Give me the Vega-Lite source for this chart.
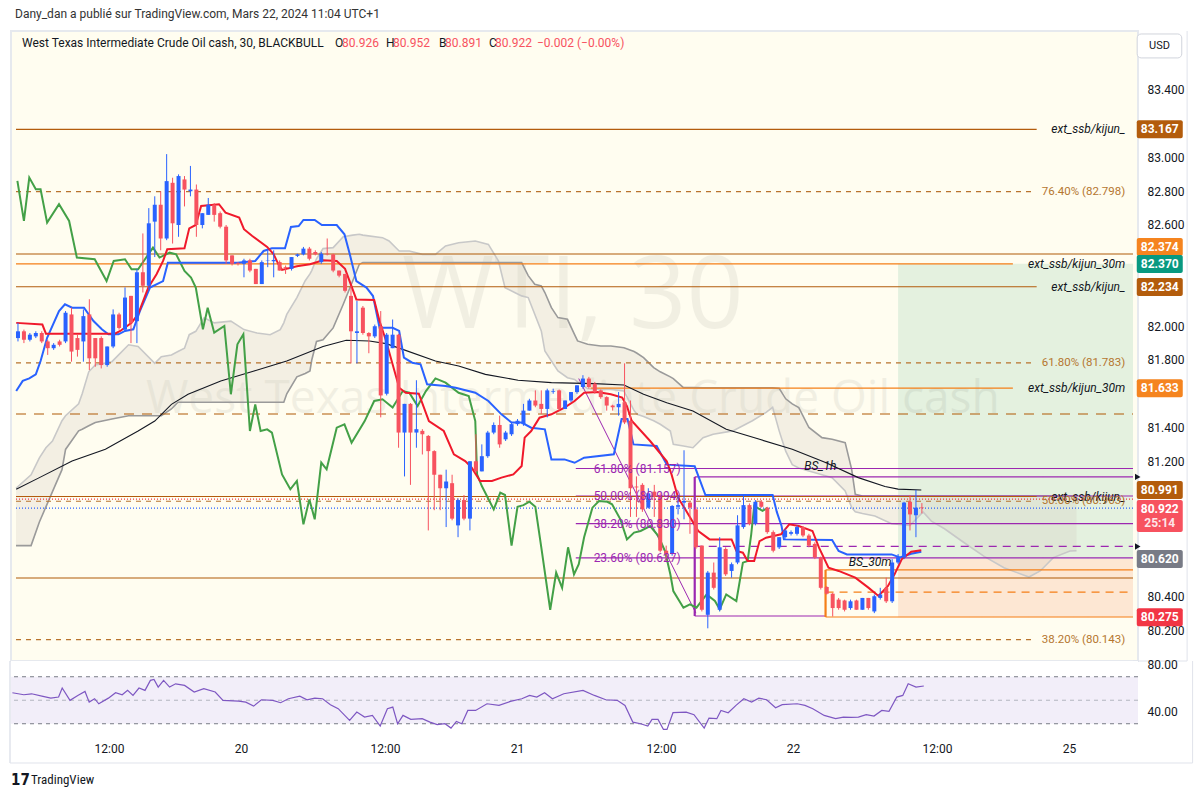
{
"$schema":"https://vega.github.io/schema/vega-lite/v6.json",
"background":"white",
"padding":{"left":9,"top":7,"right":0,"bottom":0},
"autosize":{"type":"pad"},
"config":{"view":{"stroke":"#e6e9ee","strokeWidth":2},"font":"Roboto","text":{"font":"Roboto"}},
"spacing":0,
"bounds":"flush",
"datasets":{
"zones":[{"k":"profit","a":156,"b":195.5,"lo":80.62,"hi":82.37},{"k":"loss","a":156,"b":195.5,"lo":80.275,"hi":80.62}],
"candles":[
{"i":8,"o":81.93,"h":82.02,"l":81.91,"c":81.97},{"i":9,"o":81.97,"h":81.98,"l":81.90,"c":81.92},{"i":10,"o":81.92,"h":81.96,"l":81.91,"c":81.95},{"i":11,"o":81.94,"h":81.97,"l":81.93,"c":81.96},{"i":12,"o":81.96,"h":81.97,"l":81.90,"c":81.91},{"i":13,"o":81.91,"h":81.92,"l":81.83,"c":81.87},{"i":14,"o":81.87,"h":81.90,"l":81.86,"c":81.89},{"i":15,"o":81.91,"h":81.92,"l":81.88,"c":81.89},{"i":16,"o":81.91,"h":82.09,"l":81.90,"c":82.08},{"i":17,"o":82.07,"h":82.11,"l":81.79,"c":81.85},
{"i":18,"o":81.93,"h":81.95,"l":81.82,"c":81.86},{"i":19,"o":81.91,"h":82.10,"l":81.79,"c":82.06},{"i":20,"o":82.07,"h":82.16,"l":81.74,"c":81.81},{"i":21,"o":81.93,"h":81.93,"l":81.76,"c":81.81},{"i":22,"o":81.93,"h":81.94,"l":81.75,"c":81.77},{"i":23,"o":81.77,"h":81.88,"l":81.76,"c":81.88},{"i":24,"o":81.88,"h":82.10,"l":81.87,"c":82.07},{"i":25,"o":82.07,"h":82.08,"l":81.98,"c":81.99},{"i":26,"o":81.98,"h":82.23,"l":81.97,"c":82.17},{"i":27,"o":82.18,"h":82.18,"l":81.90,"c":82.02},
{"i":28,"o":82.03,"h":82.34,"l":81.90,"c":82.32},{"i":29,"o":82.32,"h":82.55,"l":82.20,"c":82.24},{"i":30,"o":82.24,"h":82.70,"l":82.22,"c":82.61},{"i":31,"o":82.62,"h":82.77,"l":82.41,"c":82.72},{"i":32,"o":82.72,"h":82.80,"l":82.45,"c":82.52},{"i":33,"o":82.52,"h":83.02,"l":82.51,"c":82.86},{"i":34,"o":82.85,"h":82.88,"l":82.49,"c":82.61},{"i":35,"o":82.60,"h":82.90,"l":82.53,"c":82.89},{"i":36,"o":82.87,"h":82.89,"l":82.71,"c":82.81},{"i":37,"o":82.80,"h":82.95,"l":82.77,"c":82.81},
{"i":38,"o":82.81,"h":82.84,"l":82.53,"c":82.60},{"i":39,"o":82.60,"h":82.67,"l":82.58,"c":82.67},{"i":40,"o":82.66,"h":82.76,"l":82.66,"c":82.72},{"i":41,"o":82.72,"h":82.73,"l":82.62,"c":82.66},{"i":42,"o":82.67,"h":82.68,"l":82.58,"c":82.59},{"i":43,"o":82.59,"h":82.60,"l":82.37,"c":82.39},{"i":44,"o":82.42,"h":82.42,"l":82.36,"c":82.37},{"i":45,"o":82.375,"h":82.38,"l":82.36,"c":82.37},{"i":46,"o":82.37,"h":82.40,"l":82.29,"c":82.39},{"i":47,"o":82.39,"h":82.40,"l":82.32,"c":82.33},
{"i":48,"o":82.34,"h":82.34,"l":82.25,"c":82.25},{"i":49,"o":82.25,"h":82.39,"l":82.25,"c":82.38},{"i":50,"o":82.39,"h":82.45,"l":82.35,"c":82.392},{"i":51,"o":82.385,"h":82.45,"l":82.29,"c":82.393},{"i":52,"o":82.38,"h":82.39,"l":82.33,"c":82.33},{"i":53,"o":82.35,"h":82.36,"l":82.31,"c":82.345},{"i":54,"o":82.34,"h":82.41,"l":82.33,"c":82.41},{"i":55,"o":82.417,"h":82.43,"l":82.41,"c":82.426},{"i":56,"o":82.426,"h":82.47,"l":82.42,"c":82.46},{"i":57,"o":82.46,"h":82.47,"l":82.39,"c":82.40},
{"i":58,"o":82.44,"h":82.45,"l":82.42,"c":82.426},{"i":59,"o":82.38,"h":82.44,"l":82.37,"c":82.43},{"i":60,"o":82.43,"h":82.52,"l":82.42,"c":82.426},{"i":61,"o":82.426,"h":82.43,"l":82.32,"c":82.33},{"i":62,"o":82.33,"h":82.33,"l":82.29,"c":82.30},{"i":63,"o":82.31,"h":82.31,"l":82.20,"c":82.21},{"i":64,"o":82.18,"h":82.24,"l":81.78,"c":81.97},{"i":65,"o":81.96,"h":82.15,"l":81.78,"c":81.97},{"i":66,"o":82.11,"h":82.12,"l":81.95,"c":81.96},{"i":67,"o":81.96,"h":81.965,"l":81.84,"c":81.94},
{"i":68,"o":81.94,"h":82.01,"l":81.93,"c":82.00},{"i":69,"o":82.00,"h":82.09,"l":81.46,"c":81.59},{"i":70,"o":81.60,"h":81.96,"l":81.59,"c":81.95},{"i":71,"o":81.87,"h":82.04,"l":81.87,"c":81.95},{"i":72,"o":81.95,"h":81.955,"l":81.28,"c":81.37},{"i":73,"o":81.37,"h":81.54,"l":81.11,"c":81.54},{"i":74,"o":81.54,"h":81.545,"l":81.06,"c":81.37},{"i":75,"o":81.37,"h":81.68,"l":81.28,"c":81.39},{"i":76,"o":81.38,"h":81.39,"l":81.24,"c":81.36},{"i":77,"o":81.35,"h":81.355,"l":80.79,"c":81.26},
{"i":78,"o":81.26,"h":81.265,"l":80.91,"c":81.12},{"i":79,"o":81.12,"h":81.12,"l":80.91,"c":81.04},{"i":80,"o":81.04,"h":81.15,"l":80.81,"c":81.08},{"i":81,"o":81.07,"h":81.12,"l":80.85,"c":80.86},{"i":82,"o":80.82,"h":80.98,"l":80.75,"c":80.97},{"i":83,"o":80.97,"h":81.00,"l":80.85,"c":80.86},{"i":84,"o":80.86,"h":81.20,"l":80.79,"c":81.20},{"i":85,"o":81.20,"h":81.36,"l":81.13,"c":81.14},{"i":86,"o":81.14,"h":81.30,"l":81.14,"c":81.23},{"i":87,"o":81.23,"h":81.38,"l":81.22,"c":81.37},
{"i":88,"o":81.37,"h":81.43,"l":81.36,"c":81.415},{"i":89,"o":81.415,"h":81.47,"l":81.28,"c":81.30},{"i":90,"o":81.33,"h":81.38,"l":81.32,"c":81.37},{"i":91,"o":81.36,"h":81.43,"l":81.35,"c":81.42},{"i":92,"o":81.42,"h":81.45,"l":81.41,"c":81.44},{"i":93,"o":81.42,"h":81.54,"l":81.41,"c":81.50},{"i":94,"o":81.50,"h":81.57,"l":81.50,"c":81.56},{"i":95,"o":81.56,"h":81.62,"l":81.52,"c":81.53},{"i":96,"o":81.54,"h":81.62,"l":81.48,"c":81.51},{"i":97,"o":81.51,"h":81.63,"l":81.46,"c":81.62},
{"i":98,"o":81.612,"h":81.63,"l":81.60,"c":81.616},{"i":99,"o":81.62,"h":81.625,"l":81.50,"c":81.51},{"i":100,"o":81.51,"h":81.56,"l":81.51,"c":81.56},{"i":101,"o":81.56,"h":81.61,"l":81.55,"c":81.61},{"i":102,"o":81.61,"h":81.65,"l":81.60,"c":81.65},{"i":103,"o":81.64,"h":81.71,"l":81.63,"c":81.69},{"i":104,"o":81.69,"h":81.70,"l":81.63,"c":81.64},{"i":105,"o":81.66,"h":81.67,"l":81.60,"c":81.61},{"i":106,"o":81.62,"h":81.625,"l":81.57,"c":81.58},{"i":107,"o":81.58,"h":81.585,"l":81.50,"c":81.53},
{"i":108,"o":81.53,"h":81.535,"l":81.50,"c":81.52},{"i":109,"o":81.52,"h":81.61,"l":81.47,"c":81.54},{"i":110,"o":81.55,"h":81.78,"l":81.42,"c":81.43},{"i":111,"o":81.44,"h":81.56,"l":80.87,"c":81.04},{"i":112,"o":81.05,"h":81.11,"l":80.87,"c":81.045},{"i":113,"o":81.06,"h":81.07,"l":80.90,"c":80.915},{"i":114,"o":80.925,"h":81.04,"l":80.92,"c":81.01},{"i":115,"o":81.02,"h":81.06,"l":80.87,"c":80.99},{"i":116,"o":81.00,"h":81.01,"l":80.66,"c":80.67},{"i":117,"o":80.67,"h":80.70,"l":80.61,"c":80.65},
{"i":118,"o":80.65,"h":80.94,"l":80.64,"c":80.935},{"i":119,"o":80.93,"h":81.00,"l":80.885,"c":80.94},{"i":120,"o":80.955,"h":81.265,"l":80.856,"c":80.965},{"i":121,"o":80.955,"h":80.96,"l":80.77,"c":80.925},{"i":122,"o":80.915,"h":80.93,"l":80.68,"c":80.69},{"i":123,"o":80.70,"h":80.70,"l":80.31,"c":80.32},{"i":124,"o":80.29,"h":80.55,"l":80.21,"c":80.54},{"i":125,"o":80.54,"h":80.60,"l":80.44,"c":80.45},{"i":126,"o":80.32,"h":80.75,"l":80.31,"c":80.69},{"i":127,"o":80.68,"h":80.69,"l":80.52,"c":80.53},
{"i":128,"o":80.55,"h":80.60,"l":80.51,"c":80.59},{"i":129,"o":80.60,"h":80.88,"l":80.59,"c":80.82},{"i":130,"o":80.81,"h":81.00,"l":80.80,"c":80.94},{"i":131,"o":80.94,"h":80.95,"l":80.82,"c":80.83},{"i":132,"o":80.83,"h":80.97,"l":80.82,"c":80.96},{"i":133,"o":80.96,"h":80.97,"l":80.925,"c":80.93},{"i":134,"o":80.925,"h":80.93,"l":80.77,"c":80.78},{"i":135,"o":80.78,"h":80.79,"l":80.66,"c":80.67},{"i":136,"o":80.69,"h":80.75,"l":80.68,"c":80.75},{"i":137,"o":80.75,"h":80.80,"l":80.74,"c":80.79},
{"i":138,"o":80.77,"h":80.79,"l":80.76,"c":80.78},{"i":139,"o":80.77,"h":80.82,"l":80.76,"c":80.81},{"i":140,"o":80.81,"h":80.815,"l":80.75,"c":80.76},{"i":141,"o":80.76,"h":80.77,"l":80.69,"c":80.70},{"i":142,"o":80.71,"h":80.72,"l":80.62,"c":80.63},{"i":143,"o":80.63,"h":80.635,"l":80.44,"c":80.45},{"i":144,"o":80.455,"h":80.46,"l":80.41,"c":80.415},{"i":145,"o":80.415,"h":80.42,"l":80.28,"c":80.33},{"i":146,"o":80.38,"h":80.39,"l":80.32,"c":80.33},{"i":147,"o":80.375,"h":80.38,"l":80.31,"c":80.32},
{"i":148,"o":80.33,"h":80.38,"l":80.32,"c":80.37},{"i":149,"o":80.375,"h":80.38,"l":80.32,"c":80.32},{"i":150,"o":80.32,"h":80.39,"l":80.32,"c":80.39},{"i":151,"o":80.39,"h":80.39,"l":80.32,"c":80.33},{"i":152,"o":80.31,"h":80.41,"l":80.30,"c":80.40},{"i":153,"o":80.39,"h":80.45,"l":80.38,"c":80.41},{"i":154,"o":80.45,"h":80.51,"l":80.36,"c":80.37},{"i":155,"o":80.37,"h":80.62,"l":80.36,"c":80.60},{"i":156,"o":80.60,"h":80.65,"l":80.59,"c":80.63},{"i":157,"o":80.63,"h":80.96,"l":80.62,"c":80.955},
{"i":158,"o":80.96,"h":81.00,"l":80.79,"c":80.885},{"i":159,"o":80.88,"h":81.03,"l":80.75,"c":80.925},{"i":160,"o":80.926,"h":80.952,"l":80.891,"c":80.922}],
"tenkan":[{"i":7.7,"p":82.02},{"i":12.1,"p":82.01},{"i":12.7,"p":81.956},{"i":24.3,"p":81.956},{"i":25.2,"p":81.972},{"i":27.1,"p":82.021},{"i":28.2,"p":82.071},{"i":29.9,"p":82.229},{"i":31.3,"p":82.308},{"i":32.4,"p":82.387},{"i":33.1,"p":82.456},{"i":36.0,"p":82.462},{"i":36.8,"p":82.58},{"i":37.9,"p":82.6},{"i":38.8,"p":82.713},{"i":41.8,"p":82.723},{"i":42.9,"p":82.673},{"i":45.2,"p":82.644},{"i":46.0,"p":82.575},{"i":47.4,"p":82.535},{"i":49.9,"p":82.47},{"i":51.0,"p":82.426},{"i":51.8,"p":82.367},{"i":52.4,"p":82.334},{"i":54.9,"p":82.355},{"i":57.1,"p":82.367},{"i":59.3,"p":82.391},{"i":61.6,"p":82.387},{"i":63,"p":82.34},{"i":64.9,"p":82.159},{"i":67.9,"p":82.155},{"i":68.8,"p":82.031},{"i":69.9,"p":81.913},{"i":72.1,"p":81.636},{"i":73.2,"p":81.606},{"i":75.4,"p":81.6},{"i":77.1,"p":81.438},{"i":79.6,"p":81.379},{"i":81.3,"p":81.241},{"i":83.2,"p":81.201},{"i":84.3,"p":81.162},{"i":85.7,"p":81.083},{"i":87.7,"p":81.083},{"i":89.3,"p":81.103},{"i":91.3,"p":81.122},{"i":92.7,"p":81.172},{"i":93.2,"p":81.34},{"i":94.3,"p":81.379},{"i":95.7,"p":81.458},{"i":97.7,"p":81.478},{"i":99.9,"p":81.518},{"i":101.6,"p":81.557},{"i":103.2,"p":81.606},{"i":105.4,"p":81.61},{"i":107.7,"p":81.597},{"i":109.6,"p":81.577},{"i":110.4,"p":81.527},{"i":111.2,"p":81.44},{"i":114.3,"p":81.32},{"i":117.1,"p":81.2},{"i":117.9,"p":81.122},{"i":119,"p":80.984},{"i":120.2,"p":80.915},{"i":122.4,"p":80.787},{"i":124.3,"p":80.737},{"i":128,"p":80.737},{"i":128.8,"p":80.668},{"i":129.9,"p":80.658},{"i":130.7,"p":80.609},{"i":131.8,"p":80.609},{"i":132.7,"p":80.727},{"i":133.8,"p":80.747},{"i":136.3,"p":80.767},{"i":137.7,"p":80.826},{"i":139.3,"p":80.816},{"i":141.6,"p":80.787},{"i":142.7,"p":80.688},{"i":144.3,"p":80.569},{"i":146,"p":80.55},{"i":148.8,"p":80.51},{"i":151,"p":80.451},{"i":152.7,"p":80.402},{"i":154.3,"p":80.461},{"i":155.4,"p":80.53},{"i":156.6,"p":80.619},{"i":158.2,"p":80.664},{"i":159.9,"p":80.672}],
"kijun":[{"i":7.7,"p":81.616},{"i":8.8,"p":81.676},{"i":9.9,"p":81.691},{"i":11.0,"p":81.715},{"i":11.8,"p":81.794},{"i":12.9,"p":81.932},{"i":14.9,"p":82.09},{"i":15.9,"p":82.13},{"i":17.1,"p":82.11},{"i":19.1,"p":82.11},{"i":20.7,"p":82.031},{"i":22.1,"p":81.982},{"i":23.2,"p":81.952},{"i":24.9,"p":81.952},{"i":26.0,"p":81.972},{"i":27.4,"p":81.982},{"i":28.5,"p":82.09},{"i":30.2,"p":82.229},{"i":32.4,"p":82.268},{"i":33.2,"p":82.377},{"i":44.9,"p":82.377},{"i":47.9,"p":82.387},{"i":49.3,"p":82.446},{"i":50.7,"p":82.462},{"i":52.9,"p":82.462},{"i":53.9,"p":82.588},{"i":55.2,"p":82.594},{"i":56.0,"p":82.63},{"i":57.9,"p":82.63},{"i":59.1,"p":82.6},{"i":61.6,"p":82.6},{"i":62.9,"p":82.545},{"i":63.8,"p":82.426},{"i":64.9,"p":82.268},{"i":66.6,"p":82.229},{"i":67.7,"p":82.179},{"i":68.8,"p":81.991},{"i":71,"p":81.991},{"i":72.1,"p":81.972},{"i":72.9,"p":81.814},{"i":74.3,"p":81.784},{"i":75.7,"p":81.774},{"i":76.8,"p":81.656},{"i":79.9,"p":81.646},{"i":81.6,"p":81.636},{"i":84.9,"p":81.606},{"i":87.1,"p":81.557},{"i":89.3,"p":81.478},{"i":91,"p":81.429},{"i":92.7,"p":81.429},{"i":94.3,"p":81.399},{"i":96.6,"p":81.389},{"i":97.7,"p":81.211},{"i":99.9,"p":81.211},{"i":101.6,"p":81.191},{"i":103.2,"p":81.221},{"i":108.2,"p":81.241},{"i":109.5,"p":81.45},{"i":110.5,"p":81.45},{"i":111.5,"p":81.3},{"i":115.4,"p":81.29},{"i":117.1,"p":81.18},{"i":121.8,"p":81.17},{"i":123.6,"p":81.0},{"i":134.9,"p":81.0},{"i":135.6,"p":80.9},{"i":136.4,"p":80.816},{"i":136.8,"p":80.737},{"i":144.9,"p":80.733},{"i":146,"p":80.668},{"i":147.4,"p":80.648},{"i":154.9,"p":80.648},{"i":156.3,"p":80.63},{"i":158.2,"p":80.652},{"i":159.9,"p":80.664}],
"chikou":[{"i":7.9,"p":82.861},{"i":9,"p":82.624},{"i":9.9,"p":82.881},{"i":11,"p":82.812},{"i":11.8,"p":82.812},{"i":12.9,"p":82.614},{"i":14.9,"p":82.723},{"i":16.6,"p":82.624},{"i":17.9,"p":82.407},{"i":20.9,"p":82.397},{"i":22.9,"p":82.268},{"i":24.1,"p":82.387},{"i":26,"p":82.397},{"i":27.1,"p":82.338},{"i":28.2,"p":82.338},{"i":30.7,"p":82.466},{"i":31.8,"p":82.407},{"i":33.5,"p":82.436},{"i":34.6,"p":82.426},{"i":36,"p":82.328},{"i":37.1,"p":82.288},{"i":37.9,"p":82.229},{"i":39.1,"p":81.982},{"i":39.9,"p":82.11},{"i":41,"p":81.962},{"i":42.7,"p":82.002},{"i":43.8,"p":81.597},{"i":44.9,"p":81.893},{"i":45.9,"p":81.952},{"i":47,"p":81.379},{"i":47.9,"p":81.537},{"i":48.8,"p":81.379},{"i":49.9,"p":81.389},{"i":50.7,"p":81.37},{"i":52.4,"p":81.122},{"i":53.8,"p":81.034},{"i":54.9,"p":81.083},{"i":56,"p":80.826},{"i":57,"p":80.974},{"i":57.9,"p":80.856},{"i":59,"p":81.192},{"i":59.9,"p":81.152},{"i":61.6,"p":81.399},{"i":62.9,"p":81.419},{"i":64.1,"p":81.31},{"i":66.3,"p":81.438},{"i":67.9,"p":81.557},{"i":69.3,"p":81.567},{"i":71,"p":81.518},{"i":72.7,"p":81.616},{"i":73.8,"p":81.606},{"i":75.2,"p":81.527},{"i":76.6,"p":81.616},{"i":78.2,"p":81.691},{"i":79.9,"p":81.666},{"i":82.1,"p":81.606},{"i":83.8,"p":81.587},{"i":84.9,"p":81.438},{"i":85.2,"p":81.122},{"i":86,"p":81.053},{"i":88,"p":80.915},{"i":89.1,"p":81.014},{"i":89.9,"p":81.0},{"i":91,"p":80.7},{"i":92,"p":80.93},{"i":93,"p":80.94},{"i":94,"p":80.96},{"i":95,"p":80.93},{"i":96,"p":80.69},{"i":97.5,"p":80.32},{"i":98.5,"p":80.54},{"i":99.5,"p":80.45},{"i":100.5,"p":80.69},{"i":101.5,"p":80.53},{"i":102.3,"p":80.59},{"i":103.2,"p":80.75},{"i":104.6,"p":80.925},{"i":105.7,"p":80.964},{"i":107.1,"p":80.96},{"i":107.9,"p":80.945},{"i":109.3,"p":80.856},{"i":110.4,"p":80.737},{"i":111.6,"p":80.777},{"i":112.7,"p":80.787},{"i":114.3,"p":80.816},{"i":115.7,"p":80.757},{"i":116.8,"p":80.668},{"i":117.7,"p":80.53},{"i":118.2,"p":80.431},{"i":119.9,"p":80.332},{"i":121,"p":80.352},{"i":122.1,"p":80.332},{"i":123.8,"p":80.411},{"i":125.2,"p":80.372},{"i":126,"p":80.323},{"i":127.1,"p":80.411},{"i":128.8,"p":80.372},{"i":129.9,"p":80.599},{"i":130.7,"p":80.609},{"i":131.3,"p":80.767},{"i":131.8,"p":80.935},{"i":133.2,"p":80.906},{"i":134,"p":80.922}],
"sma":[{"i":7.7,"p":81.034},{"i":11.6,"p":81.103},{"i":17.1,"p":81.201},{"i":22.7,"p":81.271},{"i":28.2,"p":81.379},{"i":31,"p":81.438},{"i":33.8,"p":81.537},{"i":36.6,"p":81.597},{"i":42.1,"p":81.676},{"i":47.7,"p":81.735},{"i":53.2,"p":81.794},{"i":59.3,"p":81.88},{"i":63.2,"p":81.917},{"i":67.1,"p":81.913},{"i":69.9,"p":81.897},{"i":72.7,"p":81.863},{"i":78.2,"p":81.794},{"i":82.1,"p":81.764},{"i":86.6,"p":81.715},{"i":92.1,"p":81.68},{"i":97.7,"p":81.666},{"i":104.9,"p":81.66},{"i":109.9,"p":81.652},{"i":113.2,"p":81.597},{"i":117.1,"p":81.547},{"i":121.5,"p":81.498},{"i":127.1,"p":81.389},{"i":132.7,"p":81.33},{"i":138.2,"p":81.271},{"i":143.8,"p":81.192},{"i":149.3,"p":81.103},{"i":153.8,"p":81.05},{"i":156,"p":81.035},{"i":159.9,"p":81.03}],
"cloud":[{"i":7.67,"a":81.04,"b":80.70},{"i":10.2,"a":81.12,"b":80.70},{"i":11.6,"a":81.22,"b":80.84},{"i":12.7,"a":81.28,"b":80.93},{"i":13.8,"a":81.32,"b":81.02},{"i":15.4,"a":81.44,"b":81.15},{"i":16.0,"a":81.47,"b":81.27},{"i":18.2,"a":81.54,"b":81.38},{"i":18.8,"a":81.60,"b":81.39},{"i":19.9,"a":81.73,"b":81.41},{"i":21.0,"a":81.77,"b":81.43},{"i":23.8,"a":81.79,"b":81.45},{"i":26.6,"a":81.89,"b":81.47},{"i":28.2,"a":81.88,"b":81.47},{"i":31.0,"a":81.78,"b":81.47},{"i":32.1,"a":81.82,"b":81.47},{"i":33.8,"a":81.83,"b":81.51},{"i":34.9,"a":81.85,"b":81.55},{"i":36.0,"a":81.87,"b":81.55},{"i":36.8,"a":81.95,"b":81.55},{"i":37.9,"a":81.97,"b":81.55},{"i":39.3,"a":82.05,"b":81.55},{"i":41.0,"a":82.02,"b":81.55},{"i":43.8,"a":82.03,"b":81.55},{"i":46.0,"a":81.98,"b":81.55},{"i":48.2,"a":81.96,"b":81.55},{"i":50.4,"a":81.95,"b":81.55},{"i":52.1,"a":81.98,"b":81.55},{"i":52.7,"a":82.02,"b":81.55},{"i":53.2,"a":82.07,"b":81.60},{"i":54.9,"a":82.17,"b":81.70},{"i":56.3,"a":82.27,"b":81.72},{"i":57.1,"a":82.31,"b":81.735},{"i":57.4,"a":82.33,"b":81.80},{"i":58.2,"a":82.40,"b":81.91},{"i":59.3,"a":82.46,"b":81.92},{"i":61.0,"a":82.466,"b":81.99},{"i":62.7,"a":82.53,"b":82.13},{"i":64.3,"a":82.54,"b":82.27},{"i":65.4,"a":82.545,"b":82.367},{"i":66.0,"a":82.54,"b":82.377},{"i":69.3,"a":82.525,"b":82.377},{"i":70.4,"a":82.505,"b":82.377},{"i":72.1,"a":82.446,"b":82.377},{"i":73.8,"a":82.446,"b":82.377},{"i":76.0,"a":82.426,"b":82.377},{"i":78.2,"a":82.426,"b":82.377},{"i":79.9,"a":82.476,"b":82.377},{"i":82.1,"a":82.495,"b":82.377},{"i":84.9,"a":82.505,"b":82.377},{"i":87.1,"a":82.485,"b":82.377},{"i":88.8,"a":82.387,"b":82.377},{"i":89.9,"a":82.229,"b":82.377},{"i":91.6,"a":82.199,"b":82.377},{"i":92.7,"a":82.18,"b":82.377},{"i":93.8,"a":82.17,"b":82.30},{"i":94.9,"a":82.071,"b":82.249},{"i":96.0,"a":81.972,"b":82.239},{"i":96.6,"a":81.853,"b":82.20},{"i":97.7,"a":81.794,"b":82.11},{"i":98.8,"a":81.735,"b":82.051},{"i":100.4,"a":81.695,"b":82.041},{"i":101.6,"a":81.685,"b":81.95},{"i":102.1,"a":81.67,"b":81.913},{"i":103.8,"a":81.63,"b":81.893},{"i":106.0,"a":81.626,"b":81.883},{"i":107.7,"a":81.626,"b":81.883},{"i":109.9,"a":81.616,"b":81.873},{"i":111.6,"a":81.50,"b":81.85},{"i":112.1,"a":81.478,"b":81.84},{"i":113.2,"a":81.465,"b":81.814},{"i":114.9,"a":81.44,"b":81.755},{"i":116.0,"a":81.419,"b":81.73},{"i":117.7,"a":81.379,"b":81.70},{"i":118.2,"a":81.30,"b":81.69},{"i":119.9,"a":81.29,"b":81.636},{"i":121.5,"a":81.28,"b":81.636},{"i":123.2,"a":81.34,"b":81.635},{"i":124.9,"a":81.36,"b":81.635},{"i":128.2,"a":81.38,"b":81.635},{"i":131.5,"a":81.44,"b":81.635},{"i":133.8,"a":81.49,"b":81.635},{"i":134.9,"a":81.52,"b":81.635},{"i":136.0,"a":81.38,"b":81.632},{"i":137.1,"a":81.26,"b":81.57},{"i":138.2,"a":81.18,"b":81.54},{"i":139.3,"a":81.16,"b":81.518},{"i":141.0,"a":81.142,"b":81.40},{"i":143.2,"a":81.12,"b":81.34},{"i":144.9,"a":81.103,"b":81.33},{"i":147.1,"a":81.024,"b":81.31},{"i":148.2,"a":80.925,"b":81.15},{"i":148.8,"a":80.90,"b":81.004},{"i":150.0,"a":80.89,"b":80.994},{"i":152.1,"a":80.876,"b":80.994},{"i":154.9,"a":80.83,"b":80.994},{"i":158.0,"a":80.82,"b":80.994},{"i":160.2,"a":80.90,"b":80.994},{"i":161.6,"a":80.845,"b":80.994},{"i":163.8,"a":80.80,"b":80.994},{"i":167.0,"a":80.72,"b":80.994},{"i":170.4,"a":80.638,"b":80.994},{"i":173.8,"a":80.569,"b":80.994},{"i":176.0,"a":80.54,"b":80.994},{"i":178.0,"a":80.514,"b":80.994},{"i":179.9,"a":80.55,"b":80.994},{"i":182.1,"a":80.629,"b":80.994},{"i":184.9,"a":80.668,"b":80.994},{"i":186.0,"a":80.67,"b":80.994}],
"hlines":[{"p":83.167,"a":7.667,"b":179.3,"k":"tag"},{"p":82.798,"a":7.667,"b":179.0,"k":"fib"},{"p":82.428,"a":7.667,"b":195.5,"k":"thick"},{"p":82.37,"a":7.667,"b":175.3,"k":"tag30"},{"p":82.234,"a":7.667,"b":179.3,"k":"tag"},{"p":81.783,"a":7.667,"b":179.0,"k":"fib"},{"p":81.633,"a":104.3,"b":175.3,"k":"tag30"},{"p":81.48,"a":7.667,"b":195.5,"k":"thickdash"},{"p":81.157,"a":101.8,"b":195.5,"k":"pfib"},{"p":81.107,"a":121.8,"b":195.5,"k":"pbox"},{"p":80.994,"a":101.8,"b":195.5,"k":"pfib"},{"p":80.991,"a":7.667,"b":179.3,"k":"tag"},{"p":80.975,"a":7.667,"b":195.5,"k":"rdot"},{"p":80.963,"a":7.667,"b":179.0,"k":"fib"},{"p":80.922,"a":7.667,"b":195.5,"k":"bdot"},{"p":80.83,"a":101.8,"b":195.5,"k":"pfib"},{"p":80.695,"a":121.8,"b":195.5,"k":"pmid"},{"p":80.627,"a":101.8,"b":195.5,"k":"pfib"},{"p":80.556,"a":143.8,"b":195.5,"k":"obox"},{"p":80.508,"a":7.667,"b":195.5,"k":"thick"},{"p":80.425,"a":143.8,"b":195.5,"k":"omid"},{"p":80.283,"a":121.8,"b":143.8,"k":"pbox"},{"p":80.277,"a":143.8,"b":195.5,"k":"obox"},{"p":80.143,"a":7.667,"b":179.0,"k":"fib"}],
"vlines":[{"i":121.8,"lo":80.283,"hi":81.107,"k":"pbox"},{"i":143.8,"lo":80.277,"hi":80.556,"k":"obox"}],
"diag":[{"i":102.3,"p":81.69},{"i":122,"p":80.30}],
"tags":[{"t":"ext_ssb/kijun_","p":83.167},{"t":"ext_ssb/kijun_30m","p":82.37},{"t":"ext_ssb/kijun_","p":82.234},{"t":"ext_ssb/kijun_30m","p":81.633},{"t":"ext_ssb/kijun_","p":80.991}],
"fiblab":[{"t":"76.40% (82.798)","p":82.798},{"t":"61.80% (81.783)","p":81.783},{"t":"50.00% (80.963)","p":80.963},{"t":"38.20% (80.143)","p":80.143}],
"pfiblab":[{"t":"61.80% (81.157)","p":81.157},{"t":"50.00% (80.994)","p":80.994},{"t":"38.20% (80.830)","p":80.83},{"t":"23.60% (80.627)","p":80.627}],
"bslab":[{"t":"BS_1h","i":140.2,"p":81.17},{"t":"BS_30m","i":147.7,"p":80.605}],
"pbox":[{"t":"83.167","p":83.167,"k":"brown"},{"t":"82.374","p":82.47,"k":"orange"},{"t":"82.370","p":82.369,"k":"teal"},{"t":"82.234","p":82.233,"k":"brown"},{"t":"81.633","p":81.633,"k":"orange"},{"t":"80.991","p":81.03,"k":"brown"},{"t":"80.620","p":80.62,"k":"gray"},{"t":"80.275","p":80.275,"k":"red"}],
"arrows":[{"p":81.107},{"p":80.695}],
"rsi":[{"i":7.9,"r":56.4},{"i":9.8,"r":54.7},{"i":11.1,"r":55.5},{"i":13.0,"r":53.3},{"i":14.3,"r":51.8},{"i":15.6,"r":52.7},{"i":16.2,"r":60.4},{"i":17.5,"r":49.9},{"i":18.8,"r":54.1},{"i":20.0,"r":57.5},{"i":20.7,"r":48.4},{"i":21.6,"r":51.3},{"i":22.3,"r":47.0},{"i":23.9,"r":51.8},{"i":25.1,"r":56.4},{"i":26.2,"r":54.7},{"i":27.1,"r":58.4},{"i":28.0,"r":54.1},{"i":29.0,"r":60.4},{"i":30.0,"r":58.4},{"i":30.9,"r":66.9},{"i":31.5,"r":67.7},{"i":32.2,"r":61.2},{"i":33.1,"r":66.9},{"i":34.1,"r":61.2},{"i":35.1,"r":64.0},{"i":36.6,"r":62.6},{"i":38.2,"r":57.0},{"i":39.8,"r":59.8},{"i":41.7,"r":57.0},{"i":43.0,"r":49.9},{"i":45.6,"r":49.3},{"i":46.8,"r":48.4},{"i":48.1,"r":45.0},{"i":49.4,"r":50.4},{"i":51.3,"r":49.9},{"i":52.6,"r":47.9},{"i":53.9,"r":51.3},{"i":55.8,"r":53.5},{"i":57.0,"r":50.4},{"i":58.3,"r":51.8},{"i":59.6,"r":51.3},{"i":60.9,"r":46.2},{"i":62.2,"r":42.8},{"i":64.1,"r":32.8},{"i":65.3,"r":40.0},{"i":66.6,"r":35.7},{"i":67.9,"r":37.1},{"i":69.2,"r":28.0},{"i":70.4,"r":42.8},{"i":71.3,"r":44.2},{"i":72.1,"r":30.0},{"i":73.0,"r":37.1},{"i":74.3,"r":33.7},{"i":76.2,"r":34.3},{"i":77.5,"r":31.4},{"i":78.7,"r":29.2},{"i":80.0,"r":30.0},{"i":81.0,"r":26.3},{"i":81.9,"r":32.0},{"i":82.8,"r":30.0},{"i":83.8,"r":41.3},{"i":85.1,"r":41.3},{"i":87.0,"r":47.0},{"i":89.0,"r":45.6},{"i":90.9,"r":49.0},{"i":92.8,"r":51.3},{"i":94.1,"r":54.1},{"i":95.3,"r":52.7},{"i":96.6,"r":56.4},{"i":97.9,"r":51.3},{"i":99.8,"r":55.5},{"i":103.0,"r":58.4},{"i":104.9,"r":54.1},{"i":106.8,"r":50.4},{"i":108.7,"r":49.9},{"i":110.0,"r":45.6},{"i":111.3,"r":31.4},{"i":112.6,"r":30.0},{"i":113.8,"r":28.0},{"i":114.5,"r":33.7},{"i":115.5,"r":33.7},{"i":116.4,"r":25.2},{"i":117.0,"r":25.2},{"i":118.0,"r":39.4},{"i":120.2,"r":39.9},{"i":121.5,"r":37.7},{"i":123.2,"r":26.3},{"i":124.0,"r":34.8},{"i":125.3,"r":34.3},{"i":126.0,"r":41.3},{"i":127.2,"r":39.4},{"i":128.5,"r":45.6},{"i":129.8,"r":51.3},{"i":131.1,"r":48.4},{"i":132.3,"r":51.8},{"i":133.6,"r":50.4},{"i":135.1,"r":43.6},{"i":136.2,"r":46.2},{"i":138.7,"r":47.0},{"i":140.0,"r":45.6},{"i":141.3,"r":42.8},{"i":143.2,"r":37.1},{"i":145.1,"r":34.3},{"i":146.4,"r":35.7},{"i":147.7,"r":35.4},{"i":148.9,"r":35.7},{"i":150.2,"r":37.7},{"i":151.5,"r":36.5},{"i":152.8,"r":41.3},{"i":154.0,"r":40.5},{"i":155.3,"r":52.7},{"i":156.3,"r":54.1},{"i":157.2,"r":64.0},{"i":158.5,"r":61.2},{"i":159.8,"r":62.1}]
},
"vconcat":[
{
"width":1127,"height":630,
"view":{"fill":"#fffdf0"},
"resolve":{"scale":{"color":"independent","fill":"independent","strokeDash":"independent","strokeWidth":"independent"}},
"layer":[
{"data":{"name":"zones"},"mark":{"type":"rect"},
"encoding":{
"x":{"field":"a","type":"quantitative","scale":{"domain":[7.667,195.5],"nice":false,"zero":false},"axis":null},
"x2":{"field":"b"},
"y":{"field":"lo","type":"quantitative","title":null,"scale":{"domain":[80.0163,83.7496],"nice":false,"zero":false},
"axis":{"orient":"right","values":[80.2,80.4,81.2,81.4,81.8,82.0,82.6,82.8,83.0,83.4],"format":".3f","domain":false,"ticks":false,"grid":false,"labelPadding":9,"labelFontSize":12,"labelColor":"#131722","labelFont":"Roboto","title":null,"labelOverlap":false,"labelFlush":false}},
"y2":{"field":"hi"},
"fill":{"field":"k","type":"nominal","scale":{"domain":["profit","loss"],"range":["#e4f1df","#fde7d3"]},"legend":null}}},
{"data":{"values":[{}]},"mark":{"type":"text","fontSize":100,"color":"#000000","opacity":0.05,"align":"center","baseline":"middle","font":"Open Sans"},
"encoding":{"x":{"datum":101.3,"type":"quantitative","axis":null},"y":{"datum":82.167,"type":"quantitative","title":null},"text":{"value":"WTI, 30"}}},
{"data":{"values":[{}]},"mark":{"type":"text","fontSize":46,"color":"#000000","opacity":0.05,"align":"center","baseline":"middle","font":"Open Sans"},
"encoding":{"x":{"datum":101.3,"type":"quantitative","axis":null},"y":{"datum":81.569,"type":"quantitative","title":null},"text":{"value":"West Texas Intermediate Crude Oil cash"}}},
{"data":{"name":"cloud"},"mark":{"type":"area","color":"#cfc9bb","opacity":0.25},
"encoding":{"x":{"field":"i","type":"quantitative","axis":null},"y":{"field":"a","type":"quantitative","title":null},"y2":{"field":"b"}}},
{"data":{"name":"cloud"},"mark":{"type":"line","color":"#c8c8c8","strokeWidth":1.6},
"encoding":{"x":{"field":"i","type":"quantitative","axis":null},"y":{"field":"a","type":"quantitative","title":null}}},
{"data":{"name":"cloud"},"mark":{"type":"line","color":"#9a9a9a","strokeWidth":1.6},
"encoding":{"x":{"field":"i","type":"quantitative","axis":null},"y":{"field":"b","type":"quantitative","title":null}}},
{"data":{"name":"hlines"},"mark":{"type":"rule"},
"encoding":{"x":{"field":"a","type":"quantitative","axis":null},"x2":{"field":"b"},"y":{"field":"p","type":"quantitative","title":null},
"color":{"field":"k","type":"nominal","legend":null,"scale":{"domain":["tag","tag30","fib","thick","thickdash","pfib","pbox","pmid","obox","omid","rdot","bdot"],"range":["#b35c0c","#f57f17","#b8732d","#b05a06","#b05a06","#9c27b0","#9c27b0","#9c27b0","#f57f17","#f57f17","#f23645","#2962ff"]}},
"strokeDash":{"field":"k","type":"nominal","legend":null,"scale":{"domain":["tag","tag30","fib","thick","thickdash","pfib","pbox","pmid","obox","omid","rdot","bdot"],"range":[[1,0],[1,0],[5,5],[1,0],[10,8],[1,0],[1,0],[8,6],[1,0],[8,6],[1,2],[1,2]]}},
"strokeWidth":{"field":"k","type":"ordinal","legend":null,"scale":{"domain":["tag","tag30","fib","thick","thickdash","pfib","pbox","pmid","obox","omid","rdot","bdot"],"range":[1.2,1.2,1,2.2,2.2,1,2.2,2.2,2.2,2.2,1,1]}}}},
{"data":{"name":"vlines"},"mark":{"type":"rule","strokeWidth":2.2},
"encoding":{"x":{"field":"i","type":"quantitative","axis":null},"y":{"field":"lo","type":"quantitative","title":null},"y2":{"field":"hi"},
"color":{"field":"k","type":"nominal","legend":null,"scale":{"domain":["pbox","obox"],"range":["#9c27b0","#f57f17"]}}}},
{"data":{"name":"diag"},"mark":{"type":"line","color":"#9c27b0","strokeWidth":1},
"encoding":{"x":{"field":"i","type":"quantitative","axis":null},"y":{"field":"p","type":"quantitative","title":null}}},
{"data":{"name":"sma"},"mark":{"type":"line","color":"#131722","strokeWidth":1.1},
"encoding":{"x":{"field":"i","type":"quantitative","axis":null},"y":{"field":"p","type":"quantitative","title":null}}},
{"data":{"name":"chikou"},"mark":{"type":"line","color":"#43a047","strokeWidth":2},
"encoding":{"x":{"field":"i","type":"quantitative","axis":null},"y":{"field":"p","type":"quantitative","title":null}}},
{"data":{"name":"kijun"},"mark":{"type":"line","color":"#2962ff","strokeWidth":2},
"encoding":{"x":{"field":"i","type":"quantitative","axis":null},"y":{"field":"p","type":"quantitative","title":null}}},
{"data":{"name":"tenkan"},"mark":{"type":"line","color":"#f0192b","strokeWidth":2},
"encoding":{"x":{"field":"i","type":"quantitative","axis":null},"y":{"field":"p","type":"quantitative","title":null}}},
{"data":{"name":"candles"},"mark":{"type":"rule","strokeWidth":1},
"encoding":{"x":{"field":"i","type":"quantitative","axis":null},"y":{"field":"l","type":"quantitative","title":null},"y2":{"field":"h"},
"color":{"condition":{"test":"datum.c >= datum.o","value":"#2962ff"},"value":"#f7525f"}}},
{"data":{"name":"candles"},"mark":{"type":"bar","width":4},
"encoding":{"x":{"field":"i","type":"quantitative","axis":null},"y":{"field":"o","type":"quantitative","title":null},"y2":{"field":"c"},
"color":{"condition":{"test":"datum.c >= datum.o","value":"#2962ff"},"value":"#f7525f"}}},
{"data":{"name":"tags"},"mark":{"type":"text","fontSize":12,"fontStyle":"italic","color":"#131722","align":"right","baseline":"middle"},
"encoding":{"x":{"datum":194.2,"type":"quantitative","axis":null},"y":{"field":"p","type":"quantitative","title":null},"text":{"field":"t"}}},
{"data":{"name":"fiblab"},"mark":{"type":"text","fontSize":11.5,"color":"#b5762f","align":"right","baseline":"middle"},
"encoding":{"x":{"datum":194.2,"type":"quantitative","axis":null},"y":{"field":"p","type":"quantitative","title":null},"text":{"field":"t"}}},
{"data":{"name":"pfiblab"},"mark":{"type":"text","fontSize":12,"color":"#9c27b0","align":"left","baseline":"middle"},
"encoding":{"x":{"datum":104.8,"type":"quantitative","axis":null},"y":{"field":"p","type":"quantitative","title":null},"text":{"field":"t"}}},
{"data":{"name":"bslab"},"mark":{"type":"text","fontSize":12,"fontStyle":"italic","color":"#131722","align":"left","baseline":"middle"},
"encoding":{"x":{"field":"i","type":"quantitative","axis":null},"y":{"field":"p","type":"quantitative","title":null},"text":{"field":"t"}}},
{"data":{"name":"arrows"},"mark":{"type":"point","shape":"triangle-right","filled":true,"color":"#131722","size":40,"opacity":1},
"encoding":{"x":{"datum":196.3,"type":"quantitative","axis":null},"y":{"field":"p","type":"quantitative","title":null}}},
{"data":{"name":"pbox"},"mark":{"type":"tick","orient":"horizontal","size":46,"thickness":18,"opacity":1,"cornerRadius":2},
"encoding":{"x":{"datum":200.0,"type":"quantitative","axis":null},"y":{"field":"p","type":"quantitative","title":null},
"color":{"field":"k","type":"nominal","legend":null,"scale":{"domain":["brown","orange","teal","gray","red"],"range":["#b35c0c","#f5841f","#089981","#787b86","#f23645"]}}}},
{"data":{"name":"pbox"},"mark":{"type":"text","fontSize":12,"fontWeight":"bold","color":"white","align":"center","baseline":"middle"},
"encoding":{"x":{"datum":200.0,"type":"quantitative","axis":null},"y":{"field":"p","type":"quantitative","title":null},"text":{"field":"t"}}},
{"data":{"values":[{}]},"mark":{"type":"tick","orient":"horizontal","size":46,"thickness":32,"color":"#f7525f","opacity":1,"cornerRadius":2},
"encoding":{"x":{"datum":200.0,"type":"quantitative","axis":null},"y":{"datum":80.876,"type":"quantitative","title":null}}},
{"data":{"values":[{}]},"mark":{"type":"text","fontSize":12,"fontWeight":"bold","color":"white","align":"center","baseline":"middle"},
"encoding":{"x":{"datum":200.0,"type":"quantitative","axis":null},"y":{"datum":80.917,"type":"quantitative","title":null},"text":{"value":"80.922"}}},
{"data":{"values":[{}]},"mark":{"type":"text","fontSize":12,"fontWeight":"bold","color":"white","align":"center","baseline":"middle","opacity":0.85},
"encoding":{"x":{"datum":200.0,"type":"quantitative","axis":null},"y":{"datum":80.834,"type":"quantitative","title":null},"text":{"value":"25:14"}}},
{"data":{"values":[{}]},"mark":{"type":"rect","fill":"white","stroke":"#d1d4dc","cornerRadius":4},
"encoding":{"x":{"datum":196.2,"type":"quantitative","axis":null},"x2":{"datum":203.7},"y":{"datum":83.59,"type":"quantitative","title":null},"y2":{"datum":83.732}}},
{"data":{"values":[{}]},"mark":{"type":"text","fontSize":11,"color":"#131722","align":"center","baseline":"middle"},
"encoding":{"x":{"datum":199.95,"type":"quantitative","axis":null},"y":{"datum":83.661,"type":"quantitative","title":null},"text":{"value":"USD"}}},
{"data":{"values":[{}]},"mark":{"type":"rule","color":"#e0e3eb","strokeWidth":1},
"encoding":{"x":{"datum":204.6,"type":"quantitative","axis":null},"y":{"datum":80.0163,"type":"quantitative","title":null},"y2":{"datum":83.7496}}},
{"data":{"values":[{}]},"mark":{"type":"rule","color":"#e0e3eb","strokeWidth":1},
"encoding":{"x":{"datum":195.5,"type":"quantitative","axis":null},"x2":{"datum":204.6},"y":{"datum":80.0163,"type":"quantitative","title":null}}},
{"data":{"values":[{}]},"mark":{"type":"text","fontSize":12,"color":"#333333","align":"left","baseline":"middle","dx":-1},
"encoding":{"x":{"datum":7.667,"type":"quantitative","axis":null},"y":{"datum":83.85,"type":"quantitative","title":null},"text":{"value":"Dany_dan a publié sur TradingView.com, Mars 22, 2024 11:04 UTC+1"}}},
{"data":{"values":[{}]},"mark":{"type":"text","fontSize":12,"color":"#131722","align":"left","baseline":"middle","dx":6},
"encoding":{"x":{"datum":7.667,"type":"quantitative","axis":null},"y":{"datum":83.6785,"type":"quantitative","title":null},"text":{"value":"West Texas Intermediate Crude Oil cash, 30, BLACKBULL"}}},
{"data":{"values":[{}]},"mark":{"type":"text","fontSize":12,"color":"#131722","align":"left","baseline":"middle","dx":319},
"encoding":{"x":{"datum":7.667,"type":"quantitative","axis":null},"y":{"datum":83.6785,"type":"quantitative","title":null},"text":{"value":"O"}}},
{"data":{"values":[{}]},"mark":{"type":"text","fontSize":12,"color":"#f7525f","align":"left","baseline":"middle","dx":326},
"encoding":{"x":{"datum":7.667,"type":"quantitative","axis":null},"y":{"datum":83.6785,"type":"quantitative","title":null},"text":{"value":"80.926"}}},
{"data":{"values":[{}]},"mark":{"type":"text","fontSize":12,"color":"#131722","align":"left","baseline":"middle","dx":370},
"encoding":{"x":{"datum":7.667,"type":"quantitative","axis":null},"y":{"datum":83.6785,"type":"quantitative","title":null},"text":{"value":"H"}}},
{"data":{"values":[{}]},"mark":{"type":"text","fontSize":12,"color":"#f7525f","align":"left","baseline":"middle","dx":377},
"encoding":{"x":{"datum":7.667,"type":"quantitative","axis":null},"y":{"datum":83.6785,"type":"quantitative","title":null},"text":{"value":"80.952"}}},
{"data":{"values":[{}]},"mark":{"type":"text","fontSize":12,"color":"#131722","align":"left","baseline":"middle","dx":423},
"encoding":{"x":{"datum":7.667,"type":"quantitative","axis":null},"y":{"datum":83.6785,"type":"quantitative","title":null},"text":{"value":"B"}}},
{"data":{"values":[{}]},"mark":{"type":"text","fontSize":12,"color":"#f7525f","align":"left","baseline":"middle","dx":429},
"encoding":{"x":{"datum":7.667,"type":"quantitative","axis":null},"y":{"datum":83.6785,"type":"quantitative","title":null},"text":{"value":"80.891"}}},
{"data":{"values":[{}]},"mark":{"type":"text","fontSize":12,"color":"#131722","align":"left","baseline":"middle","dx":473},
"encoding":{"x":{"datum":7.667,"type":"quantitative","axis":null},"y":{"datum":83.6785,"type":"quantitative","title":null},"text":{"value":"C"}}},
{"data":{"values":[{}]},"mark":{"type":"text","fontSize":12,"color":"#f7525f","align":"left","baseline":"middle","dx":479},
"encoding":{"x":{"datum":7.667,"type":"quantitative","axis":null},"y":{"datum":83.6785,"type":"quantitative","title":null},"text":{"value":"80.922"}}},
{"data":{"values":[{}]},"mark":{"type":"text","fontSize":12,"color":"#f7525f","align":"left","baseline":"middle","dx":521},
"encoding":{"x":{"datum":7.667,"type":"quantitative","axis":null},"y":{"datum":83.6785,"type":"quantitative","title":null},"text":{"value":"−0.002 (−0.00%)"}}}
]
},
{
"width":1127,"height":75,
"view":{"fill":"white","stroke":null},
"layer":[
{"data":{"values":[{}]},"mark":{"type":"rect","color":"#f2eef9"},
"encoding":{
"x":{"datum":7.667,"type":"quantitative","title":null},
"x2":{"datum":195.5},
"y":{"datum":70,"type":"quantitative","title":null},
"y2":{"datum":30}}},
{"data":{"values":[{}]},"mark":{"type":"rule","color":"#787b86","strokeDash":[4,4],"strokeWidth":1},
"encoding":{"y":{"datum":70,"type":"quantitative","title":null}}},
{"data":{"values":[{}]},"mark":{"type":"rule","color":"#b2b5be","strokeDash":[4,4],"strokeWidth":1},
"encoding":{"y":{"datum":50,"type":"quantitative","title":null}}},
{"data":{"values":[{}]},"mark":{"type":"rule","color":"#787b86","strokeDash":[4,4],"strokeWidth":1},
"encoding":{"y":{"datum":30,"type":"quantitative","title":null}}},
{"data":{"values":[{}]},"mark":{"type":"rule","color":"#e0e3eb","strokeWidth":1.5},
"encoding":{"x":{"datum":7.5,"type":"quantitative","title":null},"y":{"datum":-3.4,"type":"quantitative","title":null},"y2":{"datum":83.4}}},
{"data":{"values":[{}]},"mark":{"type":"rule","color":"#e0e3eb","strokeWidth":1},
"encoding":{"x":{"datum":204.6,"type":"quantitative","title":null},"y":{"datum":-3.4,"type":"quantitative","title":null},"y2":{"datum":83.4}}},
{"data":{"values":[{}]},"mark":{"type":"rule","color":"#e0e3eb","strokeWidth":1},
"encoding":{"x":{"datum":7.5,"type":"quantitative","title":null},"x2":{"datum":204.6},"y":{"datum":-3.4,"type":"quantitative","title":null}}},
{"data":{"name":"rsi"},"mark":{"type":"line","color":"#7e57c2","strokeWidth":1.2},
"encoding":{
"x":{"field":"i","type":"quantitative","title":null,"scale":{"domain":[7.667,195.5],"nice":false,"zero":false},
"axis":{"orient":"bottom","values":[24,46,70,92,116,138,162,184],"labelExpr":"datum.value == 46 ? '20' : datum.value == 92 ? '21' : datum.value == 138 ? '22' : datum.value == 184 ? '25' : '12:00'","domain":false,"ticks":false,"grid":false,"labelPadding":7,"labelFontSize":12,"labelColor":"#131722","labelFont":"Roboto","title":null,"labelFlush":false,"labelOverlap":false}},
"y":{"field":"r","type":"quantitative","title":null,"scale":{"domain":[19.57,83.4],"nice":false,"zero":false},
"axis":{"orient":"right","values":[40,80],"format":".2f","domain":false,"ticks":false,"grid":false,"labelPadding":9,"labelFontSize":12,"labelColor":"#131722","labelFont":"Roboto","title":null}}}},
{"data":{"values":[{}]},"mark":{"type":"text","fontSize":15,"fontWeight":"bold","color":"#131722","align":"left","baseline":"middle","font":"DejaVu Sans Condensed"},
"encoding":{"x":{"datum":7.667,"type":"quantitative","title":null},"y":{"datum":-17.9,"type":"quantitative","title":null},"text":{"value":"17"}}},
{"data":{"values":[{}]},"mark":{"type":"text","fontSize":13,"color":"#131722","align":"left","baseline":"middle","dx":20,"font":"Roboto Condensed"},
"encoding":{"x":{"datum":7.667,"type":"quantitative","title":null},"y":{"datum":-17.9,"type":"quantitative","title":null},"text":{"value":"TradingView"}}}
]
}
]
}
